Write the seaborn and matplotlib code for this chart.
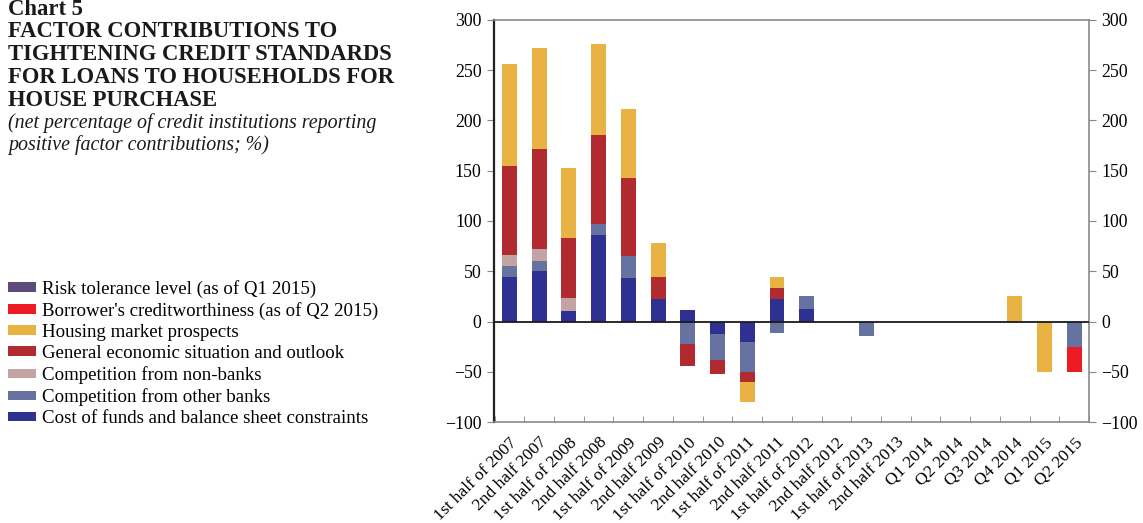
import numpy as np
import pandas as pd
import matplotlib
matplotlib.use("Agg")
import matplotlib.pyplot as plt
import seaborn as sns
from matplotlib.patches import Patch

# categories (survey periods)
periods = ["1st half of 2007", "2nd half 2007", "1st half of 2008", "2nd half 2008",
           "1st half of 2009", "2nd half 2009", "1st half of 2010", "2nd half 2010",
           "1st half of 2011", "2nd half 2011", "1st half of 2012", "2nd half 2012",
           "1st half of 2013", "2nd half 2013", "Q1 2014", "Q2 2014", "Q3 2014",
           "Q4 2014", "Q1 2015", "Q2 2015"]

# factor contributions
cost_of_funds = [44, 50, 10, 86, 43, 22, 11, -12, -20, 22, 12, 0, 0, 0, 0, 0, 0, 0, 0, 0]
other_banks = [11, 10, 0, 11, 22, 0, -22, -26, -30, -11, 13, 0, -14, 0, 0, 0, 0, 0, 0, -25]
non_banks = [11, 12, 13, 0, 0, 0, 0, 0, 0, 0, 0, 0, 0, 0, 0, 0, 0, 0, 0, 0]
general_economic = [89, 100, 60, 89, 78, 22, -22, -14, -10, 11, 0, 0, 0, 0, 0, 0, 0, 0, 0, 0]
housing_market = [101, 100, 70, 90, 68, 34, 0, 0, -20, 11, 0, 0, 0, 0, 0, 0, 0, 25, -50, 0]
creditworthiness = [0, 0, 0, 0, 0, 0, 0, 0, 0, 0, 0, 0, 0, 0, 0, 0, 0, 0, 0, -25]
risk_tolerance = [0] * 20

# stacking order, bottom to top
series = [
    ("Cost of funds and balance sheet constraints", cost_of_funds, "#2e3192"),
    ("Competition from other banks", other_banks, "#6673a0"),
    ("Competition from non-banks", non_banks, "#c4a3a4"),
    ("General economic situation and outlook", general_economic, "#b02a30"),
    ("Housing market prospects", housing_market, "#e8b342"),
    ("Borrower's creditworthiness (as of Q2 2015)", creditworthiness, "#ed1c24"),
    ("Risk tolerance level (as of Q1 2015)", risk_tolerance, "#5e4b7c"),
]

serif = "Liberation Serif"
plt.rcParams["font.family"] = serif
plt.rcParams["axes.unicode_minus"] = True

fig = plt.figure(figsize=(11.43, 5.23), dpi=100)
ax = fig.add_axes([0.4322, 0.1931, 0.5206, 0.7687])

pos_base = np.zeros(len(periods))
neg_base = np.zeros(len(periods))
for name, vals, color in series:
    v = np.array(vals, dtype=float)
    bottom = np.where(v >= 0, pos_base, neg_base)
    df = pd.DataFrame({"period": periods, "value": v})
    sns.barplot(data=df, x="period", y="value", color=color, width=0.5,
                errorbar=None, bottom=bottom, ax=ax, saturation=1,
                edgecolor="none", linewidth=0)
    pos_base += np.where(v > 0, v, 0)
    neg_base += np.where(v < 0, v, 0)

ax.axhline(0, color="#1a1a1a", linewidth=1.3, zorder=5)

ax.set_xlim(-0.52, 19.49)
ax.set_ylim(-100, 300)
ax.set_yticks(range(-100, 301, 50))
ax.set_xlabel("")
ax.set_ylabel("")

ax.set_xticks(range(len(periods)))
ax.set_xticklabels(periods, rotation=45, ha="right", rotation_mode="anchor",
                   fontsize=12.5, family=serif)
ax.set_xticks(np.arange(-0.5, len(periods), 1.0), minor=True)
ax.tick_params(axis="x", which="major", length=0, pad=9)
ax.tick_params(axis="x", which="minor", direction="in", length=4, color="#888888")

ax.yaxis.set_ticks_position("both")
ax.tick_params(axis="y", which="major", labelleft=True, labelright=True,
               direction="out", length=5, labelsize=12.8, color="#888888", pad=4)
for lab in ax.get_yticklabels():
    lab.set_family(serif)

for side in ["top", "right", "bottom"]:
    ax.spines[side].set_color("#8a8a8a")
    ax.spines[side].set_linewidth(1.2)
ax.spines["left"].set_color("#222222")
ax.spines["left"].set_linewidth(1.6)

# title block
fig.text(8 / 1143, 1 - 15 / 523, "Chart 5", fontsize=16.3, fontweight="bold",
         family=serif, va="baseline", color="#1a1a1a")
title_lines = ["FACTOR CONTRIBUTIONS TO", "TIGHTENING CREDIT STANDARDS",
               "FOR LOANS TO HOUSEHOLDS FOR", "HOUSE PURCHASE"]
for i, line in enumerate(title_lines):
    fig.text(8 / 1143, 1 - (37 + 23 * i) / 523, line, fontsize=16.3,
             fontweight="bold", family=serif, va="baseline", color="#1a1a1a")
sub_lines = ["(net percentage of credit institutions reporting",
             "positive factor contributions; %)"]
for i, line in enumerate(sub_lines):
    fig.text(8 / 1143, 1 - (128 + 22 * i) / 523, line, fontsize=14.4,
             style="italic", family=serif, va="baseline", color="#1a1a1a")

handles = [Patch(facecolor=c, edgecolor="none", label=n) for n, _, c in reversed(series)]
fig.legend(handles=handles, loc="upper left", bbox_to_anchor=(2.3 / 1143, 1 - 274 / 523),
           frameon=False, handlelength=1.48, handleheight=0.4,
           handletextpad=0.32, labelspacing=0.22, borderaxespad=0, borderpad=0.3,
           prop={"family": serif, "size": 13.6})

fig.savefig("out.png", dpi=100)
